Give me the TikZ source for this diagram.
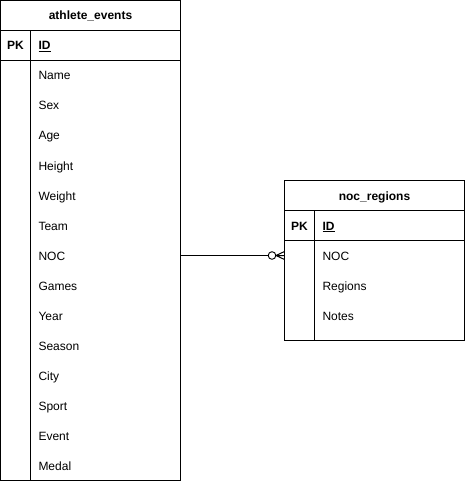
\documentclass[tikz,border=0pt]{standalone}
\usepackage{fontspec}
\setmainfont{Liberation Sans}
\begin{document}
\begin{tikzpicture}[x=1pt,y=-1pt,line width=1pt,
  tbl/.style={draw=black,rectangle,inner sep=0pt,outer sep=0pt},
  hdr/.style={font=\fontsize{12}{14}\selectfont\bfseries,anchor=center,text height=8.6pt,text depth=2.6pt,inner sep=0pt},
  pk/.style={font=\fontsize{12}{14}\selectfont\bfseries,anchor=center,text height=8.6pt,text depth=2.6pt,inner sep=0pt},
  fld/.style={font=\fontsize{12}{14}\selectfont,anchor=west,inner sep=0pt,text height=8.6pt,text depth=2.6pt}]
\useasboundingbox (0,0) rectangle (465,481);
% left table
\node[tbl,minimum width=180pt,minimum height=480pt] (ae) at (90.5,240.5) {};
\draw (ae.west |- 0,30.5) -- (ae.east |- 0,30.5);
\draw (ae.west |- 0,60.5) -- (ae.east |- 0,60.5);
\draw (30.5,30.5) -- (30.5,480.5);
\node[hdr] (aeh) at (90.5,17) {athlete\_events};
\node[pk] (aepk) at (15.5,47) {PK};
\node[fld,font=\fontsize{12}{14}\selectfont\bfseries] (aeid) at (38,47) {\underline{ID}};
\foreach \t [count=\i] in {Name,Sex,Age,Height,Weight,Team,NOC,Games,Year,Season,City,Sport,Event,Medal}{
  \node[fld] (ae\i) at (38,{47+30*\i}) {\t};
}
% right table
\node[tbl,minimum width=180pt,minimum height=160pt] (nr) at (374.5,260.5) {};
\draw (nr.west |- 0,210.5) -- (nr.east |- 0,210.5);
\draw (nr.west |- 0,240.5) -- (nr.east |- 0,240.5);
\draw (314.5,210.5) -- (314.5,340.5);
\node[hdr] (nrh) at (374.5,197) {noc\_regions};
\node[pk] (nrpk) at (299.5,227) {PK};
\node[fld,font=\fontsize{12}{14}\selectfont\bfseries] (nrid) at (322,227) {\underline{ID}};
\foreach \t [count=\i] in {NOC,Regions,Notes}{
  \node[fld] (nr\i) at (322,{227+30*\i}) {\t};
}
% connector
\coordinate (cs) at (ae.east |- 0,255.5);
\coordinate (ce) at (nr.west |- 0,255.5);
\coordinate (cf) at ([xshift=-8.5pt]ce);
\draw (cs) -- ([xshift=-16.5pt]ce);
\draw (cf) -- ([yshift=-4pt]ce) (cf) -- (ce) (cf) -- ([yshift=4pt]ce);
\draw[line width=0.9pt,fill=white] ([xshift=-12.5pt]ce) circle (3.8pt);
\end{tikzpicture}
\end{document}
